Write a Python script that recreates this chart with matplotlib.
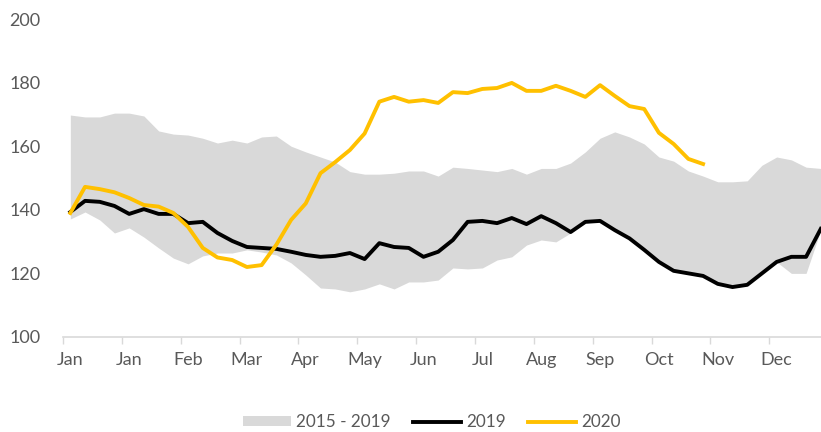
import numpy as np
import matplotlib
matplotlib.use("Agg")
import matplotlib.pyplot as plt

plt.rcParams['font.family'] = ['Lato', 'DejaVu Sans']

# weekly values, 52 weeks
month_labels = ["Jan", "Jan", "Feb", "Mar", "Apr", "May", "Jun", "Jul", "Aug", "Sep", "Oct", "Nov", "Dec"]

range_high = [169.8, 169.2, 169.2, 170.4, 170.4, 169.5, 164.8, 163.8, 163.5, 162.5,
              161.0, 161.9, 161.0, 162.9, 163.2, 160.0, 158.2, 156.6, 155.0, 152.0,
              151.2, 151.2, 151.5, 152.2, 152.2, 150.6, 153.4, 153.0, 152.5, 152.0,
              153.0, 151.2, 153.0, 153.0, 154.7, 158.2, 162.5, 164.5, 162.9, 160.7,
              156.6, 155.3, 152.2, 150.6, 148.8, 148.8, 149.1, 154.0, 156.6, 155.7,
              153.4, 153.0]
range_low = [137.1, 139.3, 136.8, 132.7, 134.3, 131.4, 128.0, 124.8, 123.0, 125.5,
             126.4, 126.4, 127.4, 126.7, 125.8, 123.3, 119.5, 115.4, 115.1, 114.2,
             115.1, 116.7, 115.1, 117.3, 117.3, 117.9, 121.7, 121.4, 121.7, 124.2,
             125.2, 128.9, 130.5, 129.9, 132.7, 135.8, 136.5, 133.6, 131.0, 127.4,
             123.6, 120.8, 120.0, 119.2, 116.7, 115.7, 116.4, 120.0, 123.6, 120.0,
             120.0, 133.6]
y2019 = [139.3, 142.8, 142.5, 141.2, 138.7, 140.2, 138.7, 138.7, 135.8, 136.2,
         132.7, 130.2, 128.3, 128.0, 127.7, 126.8, 125.8, 125.2, 125.5, 126.4,
         124.5, 129.5, 128.3, 128.0, 125.2, 126.8, 130.5, 136.2, 136.5, 135.8,
         137.4, 135.5, 138.0, 135.8, 133.0, 136.2, 136.5, 133.6, 131.0, 127.4,
         123.6, 120.8, 120.0, 119.2, 116.7, 115.7, 116.4, 120.0, 123.6, 125.2,
         125.2, 134.0]
y2020 = [139.0, 147.2, 146.5, 145.5, 143.7, 141.5, 141.0, 139.0, 134.6, 128.0,
         125.0, 124.2, 122.0, 122.6, 129.0, 136.8, 142.0, 151.5, 155.0, 158.8,
         164.0, 174.0, 175.5, 174.0, 174.5, 173.6, 177.0, 176.7, 178.0, 178.3,
         179.9, 177.4, 177.4, 179.0, 177.4, 175.5, 179.2, 175.8, 172.6, 171.7,
         164.2, 160.7, 156.0, 154.4]

weeks = np.arange(len(y2019))

fig = plt.figure(figsize=(8.21, 4.32), dpi=100)
ax = fig.add_axes([0.0767, 0.22, 0.932, 0.736])

ax.fill_between(weeks, range_low, range_high, color="#d9d9d9", lw=0, label="2015 - 2019")
ax.plot(weeks, y2019, color="black", lw=2.8, label="2019")
ax.plot(np.arange(len(y2020)), y2020, color="#ffc000", lw=2.8, label="2020")

ax.set_xlim(-0.5, 51.5)
ax.set_ylim(100, 200)
ax.set_yticks(np.arange(100, 201, 20))

# tick marks between the labels, labels every 4 weeks
ax.set_xticks(np.arange(-0.5, 52, 4))
ax.set_xticklabels([])
ax.tick_params(axis="x", which="major", length=5, color="#d9d9d9", width=1)
ax.set_xticks(np.arange(0, 52, 4), month_labels, minor=True)
ax.tick_params(axis="x", which="minor", length=0, pad=11, labelsize=13, labelcolor="#595959")
ax.tick_params(axis="y", length=0, pad=16, labelsize=13, labelcolor="#595959")

for s in ["top", "right", "left"]:
    ax.spines[s].set_visible(False)
ax.spines["bottom"].set_color("#d9d9d9")
ax.spines["bottom"].set_linewidth(1.2)

leg = fig.legend(loc="center", bbox_to_anchor=(0.526, 0.023), ncol=3, frameon=False,
                 fontsize=12.3, handlelength=2.8, handleheight=0.5, handletextpad=0.3,
                 columnspacing=1.3)
for t in leg.get_texts():
    t.set_color("#595959")

fig.savefig("out.png", dpi=100)
